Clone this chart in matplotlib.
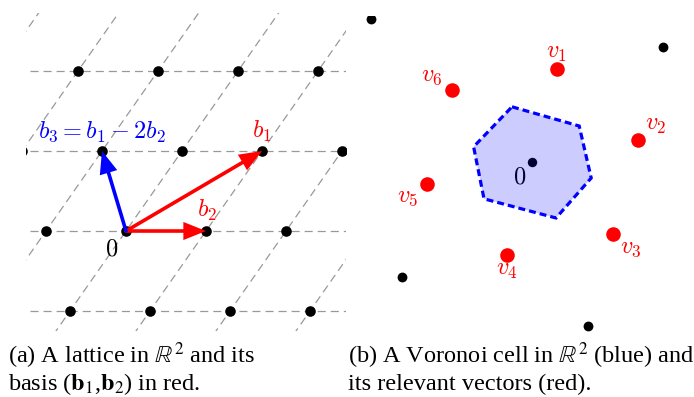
import matplotlib
matplotlib.use("Agg")
import matplotlib.pyplot as plt
from matplotlib.patches import FancyArrowPatch, Polygon

plt.rcParams["mathtext.fontset"] = "cm"
plt.rcParams["lines.scale_dashes"] = False

# (a) lattice points, basis and grid
lat_x = [-1, 0, 1, 2, -1.3, -0.3, 0.7, 1.7, 2.7, -0.6, 0.4, 1.4, 2.4, -0.7, 0.3, 1.3, 2.3]
lat_y = [0, 0, 0, 0, 1, 1, 1, 1, 1, 2, 2, 2, 2, -1, -1, -1, -1]
row_levels = [-1, 0, 1, 2]
diag_offsets = [-4, -3, -2, -1, 0, 1, 2, 3, 4]
diag_slope = 0.7  # direction b1 - b2
b1 = (1.7, 1.0)
b2 = (1.0, 0.0)
b3 = (-0.3, 1.0)

# (b) relevant vectors, other lattice points, Voronoi cell
rel_x = [0.31, 1.33, 1.01, -0.31, -1.31, -1.0]
rel_y = [1.16, 0.28, -0.90, -1.16, -0.28, 0.90]
rel_names = ["$v_1$", "$v_2$", "$v_3$", "$v_4$", "$v_5$", "$v_6$"]
rel_lab_x = [0.31, 1.55, 1.24, -0.31, -1.55, -1.25]
rel_lab_y = [1.30, 0.40, -1.13, -1.41, -0.50, 1.01]
far_x = [-2.01, 1.64, -1.63, 0.70]
far_y = [1.79, 1.44, -1.44, -2.05]
cell_x = [-0.25, 0.59, 0.74, 0.30, -0.60, -0.73]
cell_y = [0.69, 0.45, -0.20, -0.70, -0.46, 0.19]

W, H = 694, 397
fig = plt.figure(figsize=(W / 100, H / 100), dpi=100)

grid_kw = dict(color="#999999", lw=0.9, dashes=(5.8, 3.6), zorder=1)

# ---- panel (a)
axa = fig.add_axes([26 / W, (H - 331) / H, 320 / W, 318 / H])
axa.set_xlim(-1.25, 2.75)
axa.set_ylim(-1.25, 2.725)
axa.axis("off")
for r in row_levels:
    axa.plot([-1.2, 2.8], [r, r], **grid_kw)
for k in diag_offsets:
    axa.plot([k + diag_slope * -1.3, k + diag_slope * 2.8], [-1.3, 2.8], **grid_kw)
axa.scatter(lat_x, lat_y, s=58, color="black", zorder=3, linewidths=0)

def arrow(ax, end, color):
    ax.add_patch(FancyArrowPatch((0, 0), end, arrowstyle="-|>,head_length=11.5,head_width=4.6",
                                 mutation_scale=1, lw=2.6, color=color,
                                 shrinkA=0, shrinkB=0, zorder=4, joinstyle="miter"))

arrow(axa, b1, "red")
arrow(axa, b2, "red")
arrow(axa, b3, "blue")

tkw = dict(fontsize=17.5, ha="center", va="baseline")
axa.text(-0.3, 1.1625, r"$b_3 = b_1 - 2b_2$", color="blue", **tkw)
axa.text(1.7, 1.1625, r"$b_1$", color="red", **tkw)
axa.text(1.01, 0.175, r"$b_2$", color="red", **tkw)
axa.text(-0.175, -0.3, r"$0$", color="black", **tkw)

# ---- panel (b)
axb = fig.add_axes([365 / W, (H - 335) / H, 327 / W, 319 / H])
axb.set_xlim(-2.0875, 2.0)
axb.set_ylim(-2.1625, 1.825)
axb.axis("off")
axb.scatter(far_x, far_y, s=50, color="black", zorder=3, linewidths=0)
axb.scatter([0], [0], s=46, color="black", zorder=2, linewidths=0)
axb.text(-0.16, -0.275, r"$0$", color="black", zorder=2, **tkw)
axb.add_patch(Polygon(list(zip(cell_x, cell_y)), closed=True, facecolor=(0, 0, 1, 0.2),
                      edgecolor="blue", lw=2.3, linestyle=(0, (5.0, 2.9)), zorder=4))
axb.scatter(rel_x, rel_y, s=110, color="red", zorder=5, linewidths=0)
for lx, ly, name in zip(rel_lab_x, rel_lab_y, rel_names):
    axb.text(lx, ly, name, color="red", **tkw)

# ---- captions
ckw = dict(fontsize=17.5, family="Liberation Serif", math_fontfamily="stix", va="baseline")
fig.text(8 / W, (H - 363) / H, r"(a) A lattice in $\mathbb{R}^2$ and its", **ckw)
fig.text(8 / W, (H - 390) / H, r"basis ($\mathbf{b}_1$,$\mathbf{b}_2$) in red.", **ckw)
fig.text(348 / W, (H - 363) / H, r"(b) A Voronoi cell in $\mathbb{R}^2$ (blue) and", **ckw)
fig.text(348 / W, (H - 390) / H, r"its relevant vectors (red).", **ckw)

fig.savefig("out.png", dpi=100)
